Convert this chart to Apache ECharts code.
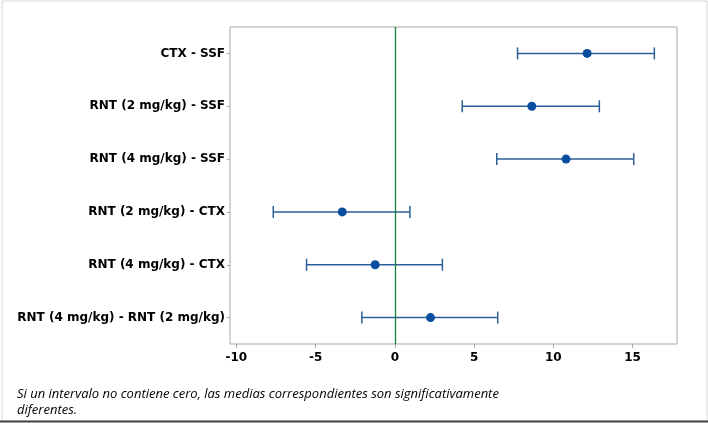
<!DOCTYPE html>
<html><head><meta charset="utf-8">
<script src="https://cdn.jsdelivr.net/npm/echarts@6/dist/echarts.min.js"></script>
<style>html,body{margin:0;padding:0;background:#fff}#c{width:708px;height:423px}</style>
</head><body><div id="c"></div>
<script>
const categories = ['CTX - SSF','RNT (2 mg/kg) - SSF','RNT (4 mg/kg) - SSF','RNT (2 mg/kg) - CTX','RNT (4 mg/kg) - CTX','RNT (4 mg/kg) - RNT (2 mg/kg)'];
const means = [12.13, 8.64, 10.8, -3.32, -1.24, 2.25];
const lower = [7.74, 4.25, 6.43, -7.67, -5.57, -2.08];
const upper = [16.37, 12.9, 15.07, 0.95, 3.0, 6.49];
const xTicks = [-10, -5, 0, 5, 10, 15];
const footnote = 'Si un intervalo no contiene cero, las medias correspondientes son significativamente\ndiferentes.';

const chart = echarts.init(document.getElementById('c'));
const errData = categories.map((c,i)=>[i, lower[i], upper[i]]);
chart.setOption({
  animation:false,
  grid:{left:230,top:27,right:31,bottom:79,show:true,borderColor:'#a8a8a8',borderWidth:1},
  xAxis:{type:'value',min:-10.4,max:17.8,
    axisLine:{show:false,onZero:false},
    axisTick:{show:true,length:4,lineStyle:{color:'#a8a8a8'},customValues:xTicks},
    axisLabel:{customValues:xTicks,color:'#000',fontWeight:'bold',fontSize:12,fontFamily:'DejaVu Sans',margin:8},
    splitLine:{show:false}},
  yAxis:{type:'category',data:categories,inverse:true,
    axisLine:{show:false,onZero:false},
    axisTick:{show:true,alignWithLabel:true,length:3,lineStyle:{color:'#a8a8a8'}},
    axisLabel:{color:'#000',fontWeight:'bold',fontSize:12,fontFamily:'DejaVu Sans',margin:5},
    splitLine:{show:false}},
  series:[
    {type:'custom',
     renderItem:function(params,api){
       const idx=api.value(0);
       const lo=api.coord([api.value(1),idx]);
       const hi=api.coord([api.value(2),idx]);
       const h=6;
       const st={stroke:'#2c5f99',lineWidth:1.5,fill:'none'};
       return {type:'group',children:[
         {type:'line',shape:{x1:lo[0],y1:lo[1],x2:hi[0],y2:hi[1]},style:st},
         {type:'line',shape:{x1:lo[0],y1:lo[1]-h,x2:lo[0],y2:lo[1]+h},style:st},
         {type:'line',shape:{x1:hi[0],y1:hi[1]-h,x2:hi[0],y2:hi[1]+h},style:st}
       ]};
     },
     dimensions:['cat','lo','hi'],
     encode:{y:0,x:[1,2]},
     data:errData,z:2},
    {type:'scatter',data:categories.map((c,i)=>[means[i],i]),symbol:'circle',symbolSize:9,
     itemStyle:{color:'#0a4f9f',opacity:1},z:3,
     markLine:{silent:true,symbol:'none',label:{show:false},
       lineStyle:{color:'#17823a',width:1.3,type:'solid',opacity:1},
       emphasis:{disabled:true},
       data:[{xAxis:0}]}}
  ],
  graphic:[
    {type:'rect',shape:{x:2,y:1,width:705,height:420},style:{fill:'none',stroke:'#d8d8d8',lineWidth:1},silent:true},
    {type:'line',shape:{x1:0,y1:421.5,x2:708,y2:421.5},style:{stroke:'#404040',lineWidth:2},silent:true},
    {type:'text',left:17,top:386,style:{text:footnote,font:'italic 13px "Open Sans"',fill:'#000',lineHeight:16}}
  ]
});
</script></body></html>
